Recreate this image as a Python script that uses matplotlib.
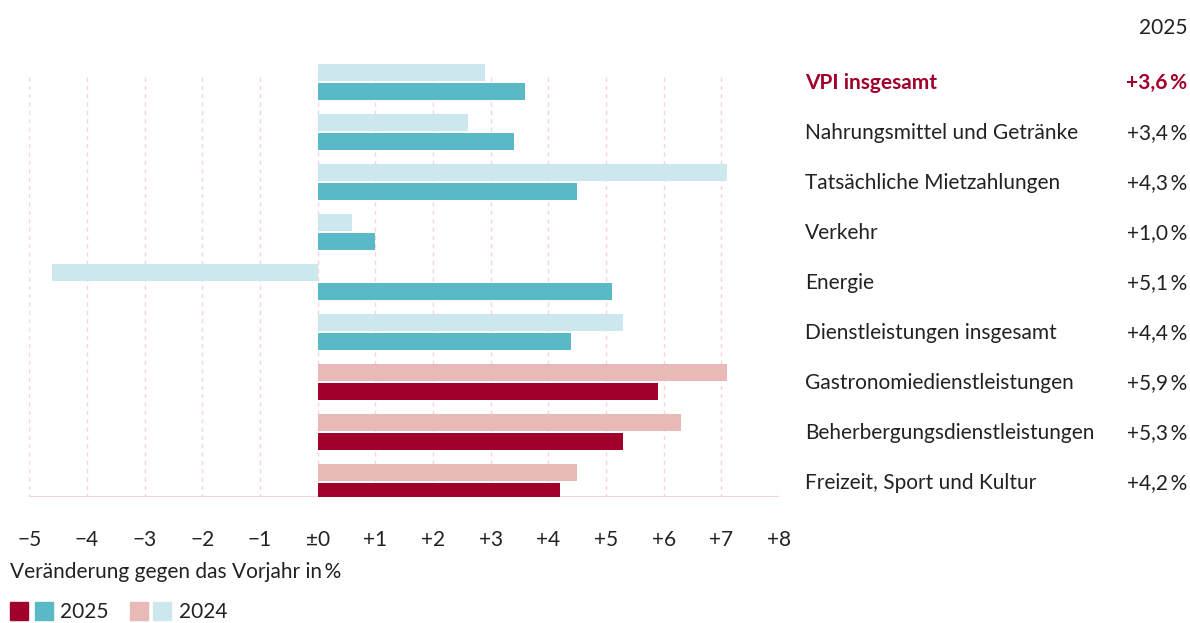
import matplotlib
matplotlib.use("Agg")
import matplotlib.pyplot as plt
from matplotlib.patches import Rectangle

plt.rcParams['font.family'] = ['Lato', 'DejaVu Sans']

categories = ["VPI insgesamt", "Nahrungsmittel und Getränke", "Tatsächliche Mietzahlungen",
              "Verkehr", "Energie", "Dienstleistungen insgesamt",
              "Gastronomiedienstleistungen", "Beherbergungsdienstleistungen",
              "Freizeit, Sport und Kultur"]
vals_2024 = [2.9, 2.6, 7.1, 0.6, -4.6, 5.3, 7.1, 6.3, 4.5]
vals_2025 = [3.6, 3.4, 4.5, 1.0, 5.1, 4.4, 5.9, 5.3, 4.2]
labels_2025 = ["+3,6\u2009%", "+3,4\u2009%", "+4,3\u2009%", "+1,0\u2009%", "+5,1\u2009%",
               "+4,4\u2009%", "+5,9\u2009%", "+5,3\u2009%", "+4,2\u2009%"]
xticks = list(range(-5, 9))
xtick_labels = ["\u22125", "\u22124", "\u22123", "\u22122", "\u22121", "\u00b10",
                "+1", "+2", "+3", "+4", "+5", "+6", "+7", "+8"]

# first six groups teal, the service sub-groups red
col_25 = ["#5ab9c7"] * 6 + ["#a00029"] * 3
col_24 = ["#cce7ee"] * 6 + ["#e8b9b7"] * 3
text_col = "#222222"
red = "#a00029"
fs = 15

fig = plt.figure(figsize=(11.9, 6.23), dpi=100)
ax = fig.add_axes([29.3 / 1190, 1 - 497 / 623, (779 - 29.3) / 1190, (497 - 57) / 623])
ax.set_xlim(-5, 8)
ax.set_ylim(8.3, -0.5)

# dashed grid
ax.vlines(xticks, -0.1, 8.3, colors="#f2d6da", linestyles=(0, (3, 3)), linewidth=1.0, zorder=0)
ax.hlines(8.3, -5, 8, colors="#f2d6da", linewidth=1.5, zorder=0)

ypos = list(range(len(categories)))
h = 0.34
ax.barh([y - 0.19 for y in ypos], vals_2024, height=h, color=col_24, zorder=2)
ax.barh([y + 0.19 for y in ypos], vals_2025, height=h, color=col_25, zorder=2)

for s in ax.spines.values():
    s.set_visible(False)
ax.set_yticks([])
ax.set_xticks(xticks)
ax.set_xticklabels(xtick_labels, fontsize=fs, color=text_col)
ax.tick_params(axis="x", length=0, pad=24)

# right-hand labels
for i, (name, lab) in enumerate(zip(categories, labels_2025)):
    bold = i == 0
    c = red if bold else text_col
    fw = "bold" if bold else "normal"
    yy = 1 - (83 + 50 * i) / 623
    fig.text(805 / 1190, yy, name, fontsize=fs, color=c, fontweight=fw, va="center", ha="left")
    fig.text(1187 / 1190, yy, lab, fontsize=fs, color=c, fontweight=fw, va="center", ha="right")

fig.text(1187 / 1190, 1 - 28 / 623, "2025", fontsize=fs, color=text_col, va="center", ha="right")
fig.text(10 / 1190, 1 - 572 / 623, "Veränderung gegen das Vorjahr in\u2009%", fontsize=fs,
         color=text_col, va="center", ha="left")

# legend
leg_y = 1 - 620 / 623
sq_w, sq_h = 18 / 1190, 18 / 623
for x0, c in [(10, "#a00029"), (35, "#5ab9c7"), (130, "#e8b9b7"), (153, "#cce7ee")]:
    fig.patches.append(Rectangle((x0 / 1190, leg_y), sq_w, sq_h, color=c, transform=fig.transFigure))
fig.text(60 / 1190, 1 - 612 / 623, "2025", fontsize=fs, color=text_col, va="center", ha="left")
fig.text(179 / 1190, 1 - 612 / 623, "2024", fontsize=fs, color=text_col, va="center", ha="left")

fig.savefig("out.png", dpi=100)
